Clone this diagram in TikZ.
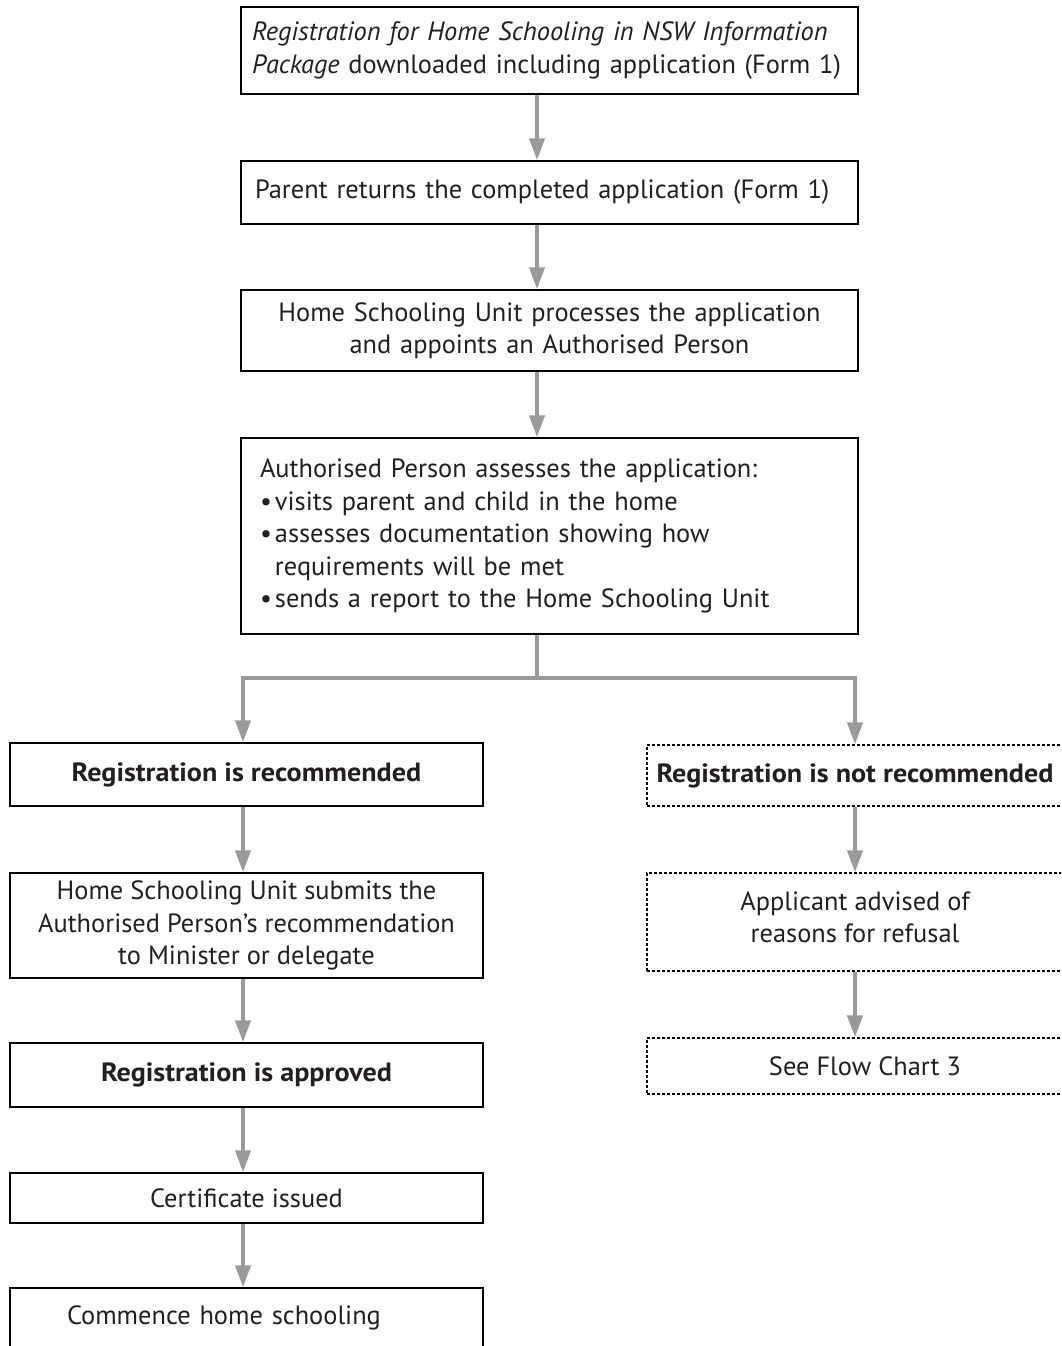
\documentclass[tikz,border=0pt]{standalone}
\usepackage{fontspec}
\setmainfont{PT Sans}
\usetikzlibrary{arrows.meta}
\definecolor{arrgray}{HTML}{9A9A9A}
\definecolor{txt}{HTML}{231F20}
\newcommand{\bfwide}{\fontsize{26.4}{32.5}\selectfont\bfseries\addfontfeatures{FakeStretch=1.065}}
\newcommand{\bul}{\textbullet\hspace{3pt}}
\begin{document}
\begin{tikzpicture}[x=1pt,y=-1pt,
  box/.style={draw=black,line width=1.5pt,minimum width=617pt,text=txt,font=\fontsize{26.4}{32.5}\selectfont,inner sep=0pt},
  lbox/.style={draw=black,line width=1.5pt,minimum width=473pt,text=txt,font=\fontsize{26.4}{32.5}\selectfont,inner sep=0pt,align=center},
  rbox/.style={draw=black,line width=1.1pt,dash pattern=on 3pt off 2pt,minimum width=416pt,text=txt,font=\fontsize{26.4}{32.5}\selectfont,inner sep=0pt,align=center},
  arr/.style={draw=arrgray,line width=4pt,-{Triangle[width=15pt,length=22pt]}},
  gline/.style={draw=arrgray,line width=4pt}]
\useasboundingbox (0,0) rectangle (1061,1346);
\clip (0,0) rectangle (1061,1346);
\fill[white] (0,0) rectangle (1061,1346);

\node[box,minimum height=87pt,text width=595pt,align=left] (b1) at (549.5,50.5)
  {\textit{Registration for Home Schooling in NSW Information}\\\textit{Package} downloaded including application (Form 1)};
\node[box,minimum height=63pt,text width=589pt,align=left] (b2) at (549.5,192.5)
  {Parent returns the completed application (Form 1)};
\node[box,minimum height=81pt,text width=617pt,align=center] (b3) at (549.5,330.5)
  {Home Schooling Unit processes the application\\and appoints an Authorised Person};
\node[box,minimum height=196pt,text width=579pt,align=left] (b4) at (549.5,536)
  {Authorised Person assesses the application:\\
   \bul visits parent and child in the home\\
   \bul assesses documentation showing how\\
   \phantom{\bul}requirements will be met\\
   \bul sends a report to the Home Schooling Unit};

\node[lbox,minimum height=63pt,font=\bfwide] (l1) at (246.5,774.5) {Registration is recommended};
\node[lbox,minimum height=105pt] (l2) at (246.5,925.5)
  {Home Schooling Unit submits the\\Authorised Person’s recommendation\\to Minister or delegate};
\node[lbox,minimum height=64pt,font=\bfwide] (l3) at (246.5,1075) {Registration is approved};
\node[lbox,minimum height=50pt] (l4) at (246.5,1198) {Certificate issued};
\node[lbox,minimum height=60pt,text width=416pt,align=left] (l5) at (246.5,1318) {\hspace*{28.5pt}Commence home schooling};

\node[rbox,minimum height=61pt,font=\bfwide] (r1) at (855,775.5) {Registration is not recommended};
\node[rbox,minimum height=98pt] (r2) at (855,922) {Applicant advised of\\reasons for refusal\\[-22.5pt]\mbox{}};
\node[rbox,minimum height=56pt] (r3) at (855,1066) {\hspace*{20pt}See Flow Chart 3};

\draw[arr] ([xshift=-12.5pt]b1.south) -- ([xshift=-12.5pt]b2.north);
\draw[arr] ([xshift=-12.5pt]b2.south) -- ([xshift=-12.5pt]b3.north);
\draw[arr] ([xshift=-12.5pt]b3.south) -- ([xshift=-12.5pt]b4.north);

\coordinate (split) at (537,678);
\draw[gline] ([xshift=-12.5pt]b4.south) -- (split);
\draw[arr] (split) -| ([xshift=-3.5pt]l1.north);
\draw[arr] (split) -| (r1.north);

\draw[arr] ([xshift=-3.5pt]l1.south) -- ([xshift=-3.5pt]l2.north);
\draw[arr] ([xshift=-3.5pt]l2.south) -- ([xshift=-3.5pt]l3.north);
\draw[arr] ([xshift=-3.5pt]l3.south) -- ([xshift=-3.5pt]l4.north);
\draw[arr] ([xshift=-3.5pt]l4.south) -- ([xshift=-3.5pt]l5.north);

\draw[arr] (r1.south) -- (r2.north);
\draw[arr] (r2.south) -- (r3.north);
\end{tikzpicture}
\end{document}
